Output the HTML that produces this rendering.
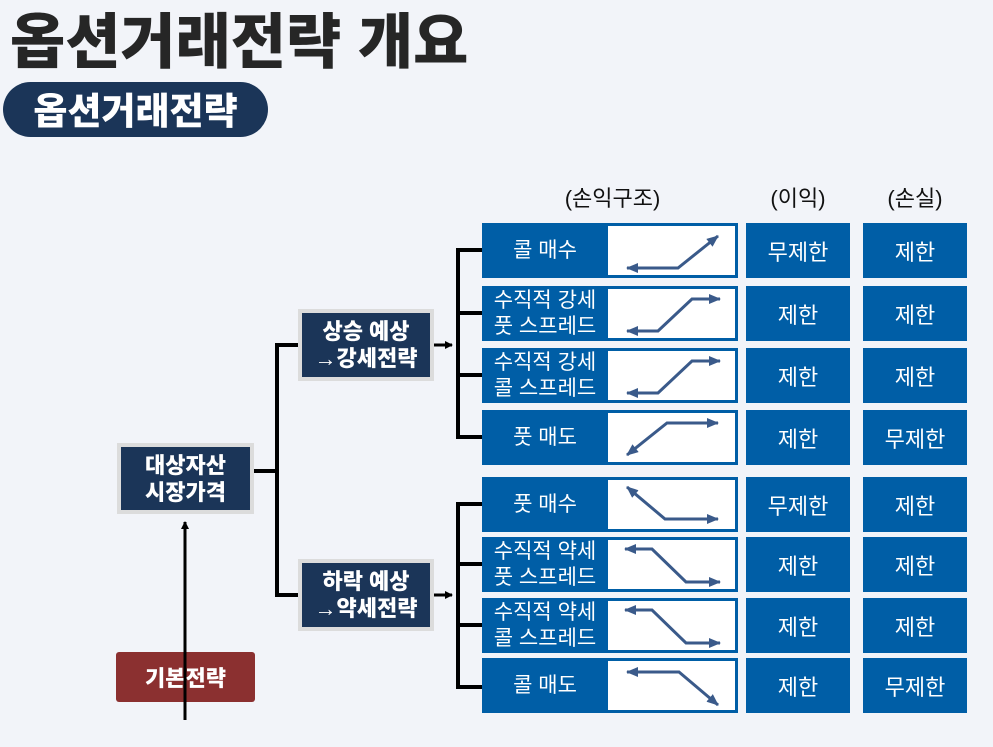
<!DOCTYPE html>
<html><head><meta charset="utf-8"><style>
body{margin:0;width:993px;height:747px;background:#f2f4f9;position:relative;overflow:hidden;font-family:"Liberation Sans","Noto Sans CJK KR","NanumGothic",sans-serif;}
.a{position:absolute;box-sizing:border-box;display:flex;align-items:center;justify-content:center;text-align:center;}
.title{left:10px;top:-6px;font-size:60px;font-weight:900;color:#262626;letter-spacing:0px;position:absolute;}
.pill{left:3px;top:82px;width:265px;height:55px;border-radius:28px;background:#1b3558;color:#fff;font-size:37px;font-weight:900;padding-bottom:3px;}
.hd{font-size:22px;color:#111;top:183px;height:28px;}
.node{background:#1b3558;border:4px solid #dcdcdc;color:#fff;font-weight:900;font-size:22px;line-height:27px;}
.lab{background:#005ea6;color:#fff;font-size:21px;line-height:26px;}
.chart{background:#fff;}
.cell{background:#005ea6;color:#fff;font-size:22px;width:104px;height:55px;}
</style></head><body>
<div class="title">옵션거래전략 개요</div>
<div class="a pill">옵션거래전략</div>
<div class="a hd" style="left:535px;width:155px">(손익구조)</div>
<div class="a hd" style="left:746px;width:104px">(이익)</div>
<div class="a hd" style="left:863px;width:104px">(손실)</div>

<div class="a node" style="left:117px;top:443px;width:137px;height:71px">대상자산<br>시장가격</div>
<div class="a node" style="left:298px;top:309px;width:136px;height:72px">상승 예상<br>→강세전략</div>
<div class="a node" style="left:298px;top:559px;width:136px;height:72px">하락 예상<br>→약세전략</div>
<div class="a" style="left:116px;top:652px;width:139px;height:50px;background:#8b3030;border-radius:3px;color:#fff;font-weight:900;font-size:22px">기본전략</div>

<div class="a lab" style="left:482px;top:223px;width:256px;height:55px;justify-content:flex-start"><span style="width:126px">콜 매수</span></div>
<div class="a lab" style="left:482px;top:286px;width:256px;height:55px;justify-content:flex-start"><span style="width:126px">수직적 강세<br>풋 스프레드</span></div>
<div class="a lab" style="left:482px;top:348px;width:256px;height:55px;justify-content:flex-start"><span style="width:126px">수직적 강세<br>콜 스프레드</span></div>
<div class="a lab" style="left:482px;top:410px;width:256px;height:55px;justify-content:flex-start"><span style="width:126px">풋 매도</span></div>
<div class="a lab" style="left:482px;top:477px;width:256px;height:55px;justify-content:flex-start"><span style="width:126px">풋 매수</span></div>
<div class="a lab" style="left:482px;top:537px;width:256px;height:55px;justify-content:flex-start"><span style="width:126px">수직적 약세<br>풋 스프레드</span></div>
<div class="a lab" style="left:482px;top:598px;width:256px;height:55px;justify-content:flex-start"><span style="width:126px">수직적 약세<br>콜 스프레드</span></div>
<div class="a lab" style="left:482px;top:658px;width:256px;height:55px;justify-content:flex-start"><span style="width:126px">콜 매도</span></div>

<div class="a chart" style="left:608px;top:226px;width:127px;height:49px"></div>
<div class="a chart" style="left:608px;top:289px;width:127px;height:49px"></div>
<div class="a chart" style="left:608px;top:351px;width:127px;height:49px"></div>
<div class="a chart" style="left:608px;top:413px;width:127px;height:49px"></div>
<div class="a chart" style="left:608px;top:480px;width:127px;height:49px"></div>
<div class="a chart" style="left:608px;top:540px;width:127px;height:49px"></div>
<div class="a chart" style="left:608px;top:601px;width:127px;height:49px"></div>
<div class="a chart" style="left:608px;top:661px;width:127px;height:49px"></div>

<div class="a cell" style="left:746px;top:223px">무제한</div><div class="a cell" style="left:863px;top:223px">제한</div>
<div class="a cell" style="left:746px;top:286px">제한</div><div class="a cell" style="left:863px;top:286px">제한</div>
<div class="a cell" style="left:746px;top:348px">제한</div><div class="a cell" style="left:863px;top:348px">제한</div>
<div class="a cell" style="left:746px;top:410px">제한</div><div class="a cell" style="left:863px;top:410px">무제한</div>
<div class="a cell" style="left:746px;top:477px">무제한</div><div class="a cell" style="left:863px;top:477px">제한</div>
<div class="a cell" style="left:746px;top:537px">제한</div><div class="a cell" style="left:863px;top:537px">제한</div>
<div class="a cell" style="left:746px;top:598px">제한</div><div class="a cell" style="left:863px;top:598px">제한</div>
<div class="a cell" style="left:746px;top:658px">제한</div><div class="a cell" style="left:863px;top:658px">무제한</div>

<svg width="993" height="747" style="position:absolute;left:0;top:0" xmlns="http://www.w3.org/2000/svg">
<defs>
<marker id="k" markerWidth="8" markerHeight="8" refX="7" refY="4" orient="auto" markerUnits="userSpaceOnUse"><path d="M0,0 L8,4 L0,8 z" fill="#000"/></marker>
<marker id="b" markerWidth="12" markerHeight="10" refX="11" refY="5" orient="auto-start-reverse" markerUnits="userSpaceOnUse"><path d="M0,0 L12,5 L0,10 z" fill="#3a5a8a"/></marker>
</defs>
<g stroke="#000" stroke-width="4" fill="none">
<path d="M185,720 V522" marker-end="url(#k)" stroke-width="3"/>
<path d="M254,471 H277"/>
<path d="M298,345 H277 V595 H298"/>
<path d="M434,345 H452" marker-end="url(#k)" stroke-width="3"/>
<path d="M434,595 H452" marker-end="url(#k)" stroke-width="3"/>
<path d="M482,250 H458 V437 H482 M458,313 H482 M458,375 H482"/>
<path d="M482,504 H458 V687 H482 M458,564 H482 M458,625 H482"/>
</g>
<g stroke="#3a5a8a" stroke-width="3" fill="none">
<path d="M627,268 H678 L718,236" marker-start="url(#b)" marker-end="url(#b)"/>
<path d="M627,331 H658 L692,299 H720" marker-start="url(#b)" marker-end="url(#b)"/>
<path d="M627,393 H658 L692,361 H720" marker-start="url(#b)" marker-end="url(#b)"/>
<path d="M627,455 L667,423 H718" marker-start="url(#b)" marker-end="url(#b)"/>
<path d="M627,487 L665,519 H718" marker-start="url(#b)" marker-end="url(#b)"/>
<path d="M625,549 H652 L686,582 H720" marker-start="url(#b)" marker-end="url(#b)"/>
<path d="M625,610 H652 L686,643 H720" marker-start="url(#b)" marker-end="url(#b)"/>
<path d="M627,672 H679 L718,705" marker-start="url(#b)" marker-end="url(#b)"/>
</g>
</svg>
</body></html>
